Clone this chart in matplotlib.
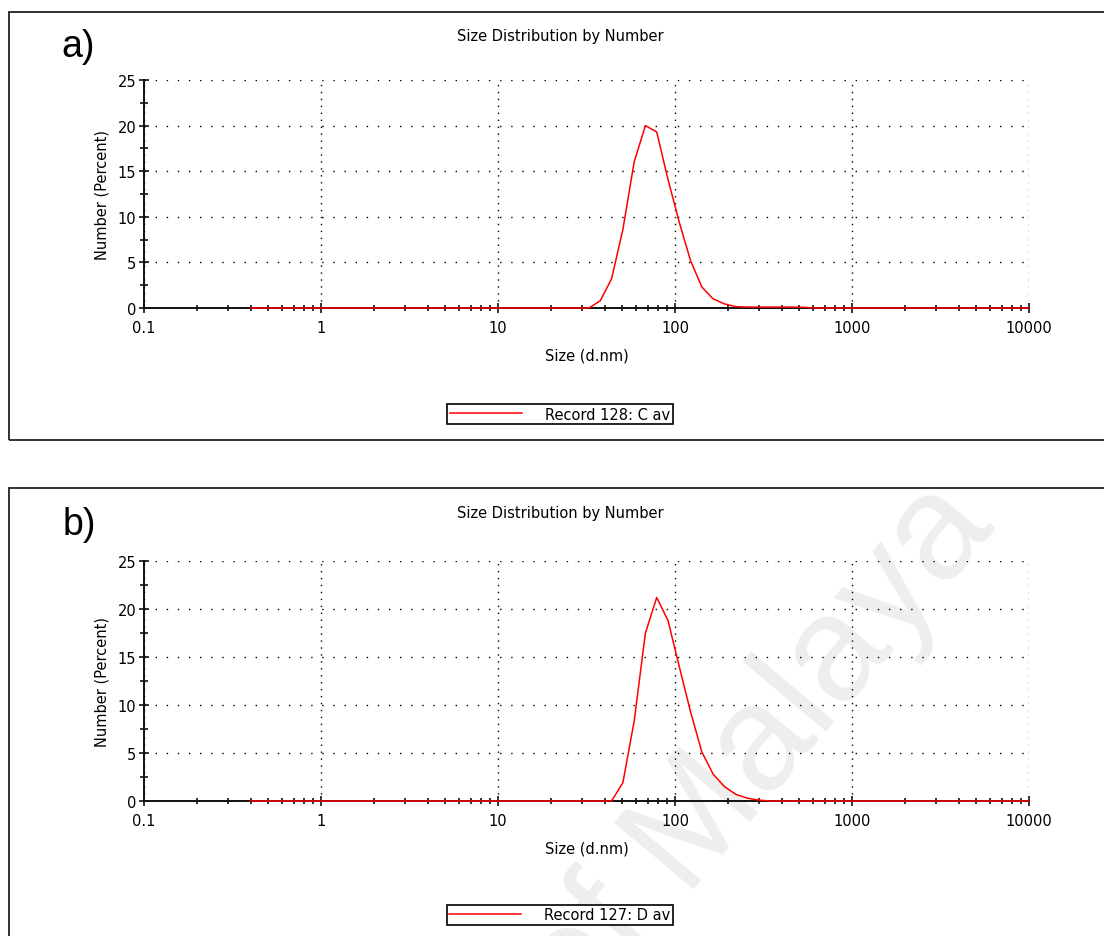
import matplotlib
matplotlib.use("Agg")
import matplotlib.pyplot as plt
from matplotlib.patches import Rectangle
from matplotlib.ticker import LogLocator, FuncFormatter, MultipleLocator, NullFormatter

plt.rcParams["font.family"] = ["DejaVu Sans"]

# Malvern size classes (d.nm) with non-zero number % for each record
sizes_a = [0.4, 32.67, 37.84, 43.82, 50.75, 58.77, 68.06, 78.82, 91.28, 105.7,
           122.4, 141.8, 164.2, 190.1, 220.2, 255.0, 295.3, 342.0, 396.1,
           458.7, 531.2, 615.1, 10000]
number_a = [0, 0, 0.8, 3.2, 8.6, 16.0, 20.0, 19.3, 14.1, 9.4,
            5.2, 2.3, 1.0, 0.45, 0.15, 0.1, 0.1, 0.1, 0.1,
            0.1, 0.08, 0, 0]

sizes_b = [0.4, 43.82, 50.75, 58.77, 68.06, 78.82, 91.28, 105.7, 122.4,
           141.8, 164.2, 190.1, 220.2, 255.0, 295.3, 342.0, 10000]
number_b = [0, 0, 1.9, 8.3, 17.5, 21.2, 18.8, 14.0, 9.3,
            5.1, 2.8, 1.5, 0.7, 0.3, 0.1, 0, 0]

labels = ["a)", "b)"]
records = ["Record 128: C av", "Record 127: D av"]
x_ticks = [0.1, 1, 10, 100, 1000, 10000]
y_ticks = [0, 5, 10, 15, 20, 25]

FS = 10.5
W, H = 1104, 937
fig = plt.figure(figsize=(W / 100, H / 100), dpi=100)


def fx(px):
    return px / W


def fy(py):
    return 1 - py / H


# faint watermark behind everything
fig.text(fx(758), fy(752), "of Malaya", rotation=50, fontsize=108,
         family="Liberation Sans", color="#eeeeee", ha="center",
         va="center", zorder=-5)

panels = [
    dict(frame=(9, 13, 1110, 441), ax=(81, 309), title_y=37, lab=(61, 47),
         leg_y=415, sizes=sizes_a, vals=number_a),
    dict(frame=(9, 489, 1110, 960), ax=(562, 802), title_y=514, lab=(63, 525),
         leg_y=916, sizes=sizes_b, vals=number_b),
]

for i, p in enumerate(panels):
    x0, y0, x1, y1 = p["frame"]
    fig.patches.append(Rectangle((fx(x0), fy(y1)), fx(x1 - x0), (y1 - y0) / H,
                                 transform=fig.transFigure, fill=False,
                                 edgecolor="#222222", lw=1.3, zorder=-1))

    top, bottom = p["ax"]
    ax = fig.add_axes([fx(144), fy(bottom), fx(1029 - 144), (bottom - top) / H])
    ax.set_facecolor("none")

    ax.plot(p["sizes"], p["vals"], color="#ff0000", lw=1.1, zorder=5,
            clip_on=False, label=records[i])

    ax.set_xscale("log")
    ax.set_xlim(0.1, 10000)
    ax.set_ylim(0, 25)

    ax.xaxis.set_major_locator(LogLocator(base=10, numticks=10))
    ax.xaxis.set_minor_locator(LogLocator(base=10, subs=range(2, 10), numticks=20))
    ax.xaxis.set_major_formatter(FuncFormatter(lambda v, pos: "%g" % v))
    ax.xaxis.set_minor_formatter(NullFormatter())
    ax.set_xticks(x_ticks)
    ax.set_yticks(y_ticks)
    ax.yaxis.set_minor_locator(MultipleLocator(2.5))

    for s in ["top", "right"]:
        ax.spines[s].set_visible(False)
    for s in ["left", "bottom"]:
        ax.spines[s].set_linewidth(1.4)
        ax.spines[s].set_color("#111111")

    ax.tick_params(which="major", direction="inout", length=7, width=1.2,
                   labelsize=FS, pad=2, color="#111111")
    ax.tick_params(which="minor", direction="inout", length=6, width=1.2,
                   color="#111111")
    ax.tick_params(axis="x", which="minor", length=4)
    ax.tick_params(axis="x", which="major", pad=5)

    ax.xaxis.grid(True, which="major", color="black", lw=1.0,
                  linestyle=(0, (1, 4)))
    ax.yaxis.grid(True, which="major", color="black", lw=1.0,
                  linestyle=(0, (1, 7)))
    ax.set_axisbelow(True)

    ax.set_xlabel("Size (d.nm)", fontsize=FS, labelpad=9)
    ax.set_ylabel("Number (Percent)", fontsize=FS, labelpad=6)

    fig.text(fx(560), fy(p["title_y"]), "Size Distribution by Number",
             fontsize=FS, ha="center", va="center")
    fig.text(fx(p["lab"][0]), fy(p["lab"][1]), labels[i], fontsize=27,
             family="Liberation Sans", ha="left", va="center")

    leg = ax.legend(loc="center", bbox_to_anchor=(fx(560), fy(p["leg_y"])),
                    bbox_transform=fig.transFigure, fontsize=FS,
                    handlelength=4.9, handletextpad=1.6, borderpad=0.2,
                    borderaxespad=0, fancybox=False, framealpha=1,
                    edgecolor="black")
    leg.get_frame().set_linewidth(1.2)

fig.savefig("out.png", dpi=100)
